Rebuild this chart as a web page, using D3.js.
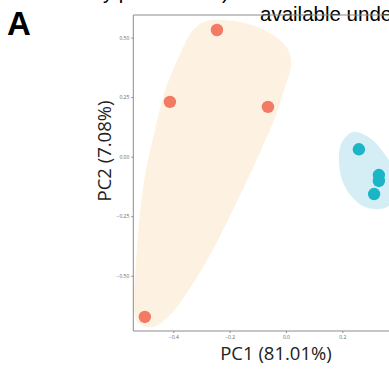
<!DOCTYPE html>
<html>
<head>
<meta charset="utf-8">
<script src="https://cdn.jsdelivr.net/npm/d3@7"></script>
<style>
  html, body { margin: 0; padding: 0; background: #fff; }
  svg { display: block; }
</style>
</head>
<body>
<div id="chart"></div>
<script>
// PCA scores (PC1, PC2)
const groupA = [[-0.245, 0.532], [-0.412, 0.230], [-0.064, 0.209], [-0.501, -0.673]];
const groupB = [[0.259, 0.031], [0.330, -0.077], [0.330, -0.102], [0.313, -0.157]];

// hull outlines, data units
const hullA = [[-0.281, 0.570], [-0.163, 0.566], [-0.064, 0.524], [0.004, 0.457], [0.018, 0.385],
  [-0.004, 0.289], [-0.039, 0.163], [-0.085, 0.037], [-0.146, -0.119], [-0.206, -0.266],
  [-0.270, -0.413], [-0.341, -0.552], [-0.412, -0.665], [-0.476, -0.716], [-0.526, -0.695],
  [-0.540, -0.623], [-0.533, -0.455], [-0.519, -0.245], [-0.497, -0.056], [-0.465, 0.112],
  [-0.426, 0.289], [-0.377, 0.427], [-0.330, 0.532]];
const hullB = [[0.238, 0.104], [0.298, 0.079], [0.345, 0.020], [0.384, -0.056], [0.394, -0.148],
  [0.359, -0.211], [0.291, -0.216], [0.245, -0.182], [0.202, -0.106], [0.188, -0.005], [0.199, 0.062]];

const xTicks = [-0.4, -0.2, 0.0, 0.2];
const yTicks = [0.50, 0.25, 0.00, -0.25, -0.50];

const width = 389, height = 369;
const mLeft = 133.3, mTop = 15, mBottom = 331;

const x = d3.scaleLinear().domain([-0.542, 0.4]).range([mLeft, 286 + 0.4 * 281.5]);
const y = d3.scaleLinear().domain([-0.732, 0.595]).range([mBottom, mTop]);

const svg = d3.select('#chart').append('svg')
  .attr('width', width)
  .attr('height', height);

const plot = svg.append('g');

const blob = d3.line()
  .x(d => x(d[0]))
  .y(d => y(d[1]))
  .curve(d3.curveCatmullRomClosed.alpha(0.5));

plot.append('path').attr('d', blob(hullA)).attr('fill', '#fdf1e1');
plot.append('path').attr('d', blob(hullB)).attr('fill', '#d5eef6');

plot.selectAll('circle.a')
  .data(groupA)
  .join('circle')
  .attr('class', 'a')
  .attr('cx', d => x(d[0]))
  .attr('cy', d => y(d[1]))
  .attr('r', 6.2)
  .attr('fill', '#f37a63');

plot.selectAll('circle.b')
  .data(groupB)
  .join('circle')
  .attr('class', 'b')
  .attr('cx', d => x(d[0]))
  .attr('cy', d => y(d[1]))
  .attr('r', 6.2)
  .attr('fill', '#1cb5c6');

// header text from the page above, mostly cropped away
svg.append('text')
  .attr('x', 92).attr('y', -1)
  .style('font', '20px "Liberation Sans", Arial, sans-serif')
  .text('by peer review)');
svg.append('text')
  .attr('x', 260).attr('y', 21)
  .style('font', '20.5px "Liberation Sans", Arial, sans-serif')
  .text('available under aCC-BY 4.0 International license.');

// panel border
svg.append('path')
  .attr('d', `M${width + 5},${mTop}H${mLeft}V${mBottom}H${width + 5}`)
  .attr('fill', 'none')
  .attr('stroke', '#8c8c8c')
  .attr('stroke-width', 1);

const xAxis = svg.append('g')
  .attr('transform', `translate(0,${mBottom})`)
  .call(d3.axisBottom(x).tickValues(xTicks).tickSize(2).tickPadding(2).tickFormat(d3.format('.1f')));
const yAxis = svg.append('g')
  .attr('transform', `translate(${mLeft},0)`)
  .call(d3.axisLeft(y).tickValues(yTicks).tickSize(2).tickPadding(2).tickFormat(d3.format('.2f')));

[xAxis, yAxis].forEach(ax => {
  ax.select('.domain').remove();
  ax.selectAll('line').attr('stroke', '#8c8c8c');
  ax.selectAll('text')
    .attr('fill', '#666')
    .style('font-family', '"Open Sans", sans-serif')
    .style('font-size', '5px');
});

svg.append('text')
  .attr('x', 276).attr('y', 360)
  .attr('text-anchor', 'middle')
  .attr('fill', '#222')
  .style('font', '18.5px "Open Sans", sans-serif')
  .text('PC1 (81.01%)');

svg.append('text')
  .attr('transform', 'translate(111,151) rotate(-90)')
  .attr('text-anchor', 'middle')
  .attr('fill', '#222')
  .style('font', '18.5px "Open Sans", sans-serif')
  .text('PC2 (7.08%)');

svg.append('text')
  .attr('x', 7).attr('y', 35)
  .style('font', 'bold 33px "Liberation Sans", Arial, sans-serif')
  .text('A');
</script>
</body>
</html>
